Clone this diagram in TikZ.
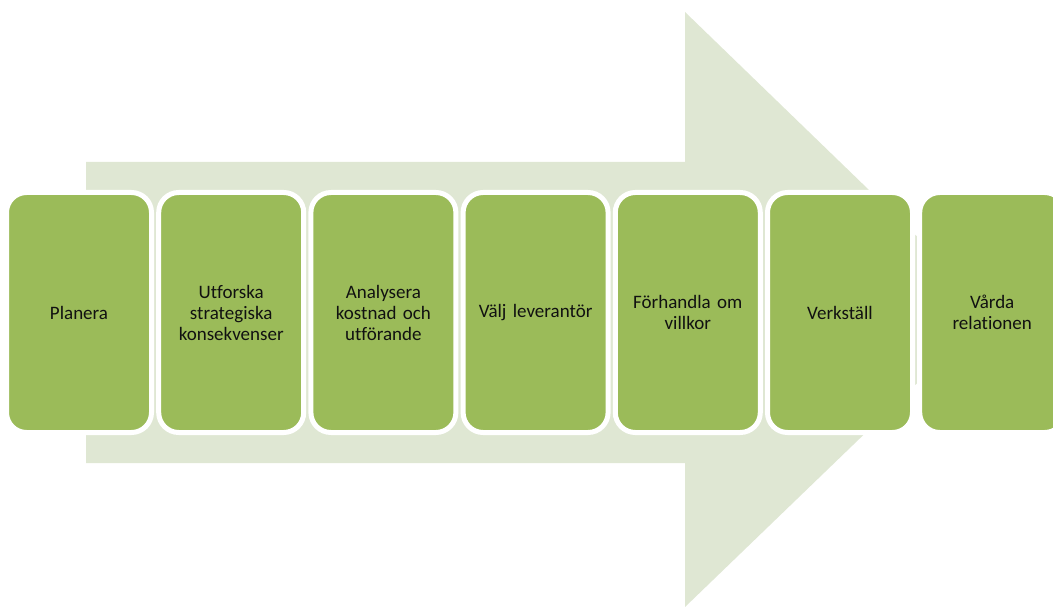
\documentclass[tikz,border=0pt]{standalone}
\usepackage{fontspec}
\setmainfont[Ligatures=NoCommon]{Carlito}
\definecolor{boxgreen}{HTML}{9BBB59}
\definecolor{arrowgreen}{HTML}{DFE7D3}
\definecolor{txt}{HTML}{111111}
\begin{document}
\begin{tikzpicture}[x=1pt,y=-1pt,
  stepbox/.style={draw=white, line width=5pt, fill=boxgreen, rounded corners=20pt,
    minimum width=145pt, minimum height=240pt, inner sep=0pt, align=center,
    text=txt, font=\fontsize{19}{21}\selectfont, text width=134pt}]
\useasboundingbox (0,0) rectangle (1053,607);
\clip (0,0) rectangle (1053,607);
\fill[arrowgreen] (86,162) -- (685,162) -- (685,12) -- (993,310) -- (685,607) -- (685,463) -- (86,463) -- cycle;
\node[stepbox] (s1) at (79,312.5) {Planera};
\node[stepbox] (s2) at (231.2,312.5) {Utforska\\strategiska\\konsekvenser};
\node[stepbox] (s3) at (383.4,312.5) {Analysera\\kostnad och\\utförande};
\node[stepbox] (s4) at (535.6,312.5) {Välj leverantör};
\node[stepbox] (s5) at (687.8,312.5) {Förhandla om\\villkor};
\node[stepbox] (s6) at (840,312.5) {Verkställ};
\node[stepbox] (s7) at (992.2,312.5) {Vårda\\relationen};
\end{tikzpicture}
\end{document}
